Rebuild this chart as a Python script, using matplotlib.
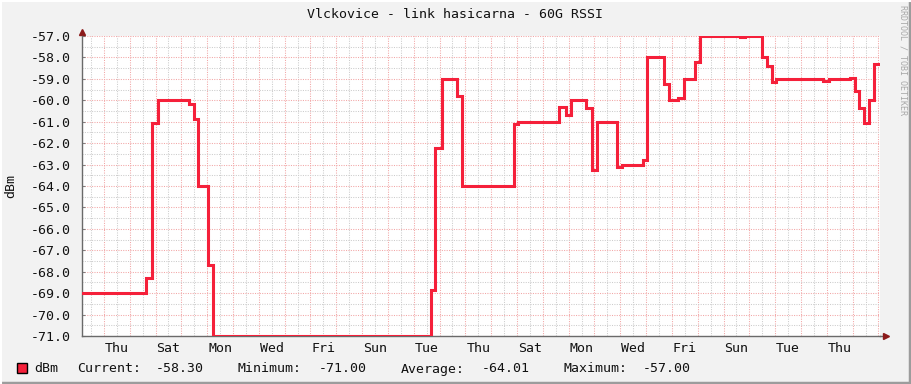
import matplotlib
matplotlib.use("Agg")
import matplotlib.pyplot as plt
from matplotlib.ticker import MultipleLocator, FixedLocator, FixedFormatter, FormatStrFormatter
from matplotlib.patches import Rectangle

# ---- data (time in days since the first Thursday midnight, value in dBm) ----
times = [-0.85, 1.63, 1.85, 2.08, 3.28, 3.49, 3.65, 4.04, 4.24,
         12.65, 12.83, 13.08, 13.66, 13.88, 15.87, 16.05,
         17.64, 17.89, 18.08, 18.67, 18.89, 19.08, 19.88, 20.05, 20.87,
         21.04, 21.69, 21.90, 22.24, 22.47, 22.89, 23.08, 24.63, 24.85,
         25.50, 25.67, 25.86, 26.03, 27.86, 28.09, 28.89, 29.09, 29.25,
         29.45, 29.64, 29.84, 30.06]
values = [-69.0, -68.3, -61.05, -60.0, -60.15, -60.85, -64.0, -67.7, -71.0,
          -68.85, -62.24, -59.0, -59.78, -64.0, -61.1, -61.0,
          -60.3, -60.7, -60.0, -60.35, -63.25, -61.0, -63.13, -63.0, -62.8,
          -58.0, -59.25, -60.0, -59.9, -59.0, -58.23, -57.0, -57.06, -57.0,
          -58.0, -58.4, -59.15, -59.0, -59.08, -59.0, -58.95, -59.55, -60.36,
          -61.05, -60.0, -58.3, -58.3]
day_labels = ["Thu", "Sat", "Mon", "Wed", "Fri", "Sun", "Tue", "Thu",
              "Sat", "Mon", "Wed", "Fri", "Sun", "Tue", "Thu"]
label_pos = [0.5 + 2 * i for i in range(len(day_labels))]

title = "Vlckovice - link hasicarna - 60G RSSI"
series_name = "dBm"
stats = [("Current:", "-58.30"), ("Minimum:", "-71.00"),
         ("Average:", "-64.01"), ("Maximum:", "-57.00")]

W, H = 911, 384
MONO = "DejaVu Sans Mono"
FS = 9.5
line_color = "#F5203A"
txt_color = "#111111"

fig = plt.figure(figsize=(W / 100, H / 100), dpi=100)
fig.patch.set_facecolor("#F2F2F2")

# frame shading like rrdtool
fig.add_artist(plt.Line2D([0, 1], [1 / H * 1.5, 1 / H * 1.5], transform=fig.transFigure, color="#9C9C9C", lw=2.5))
fig.add_artist(plt.Line2D([1 - 1.5 / W, 1 - 1.5 / W], [0, 1], transform=fig.transFigure, color="#9C9C9C", lw=2.5))
fig.add_artist(plt.Line2D([0, 1], [1 - 1 / H, 1 - 1 / H], transform=fig.transFigure, color="#FFFFFF", lw=1.5))
fig.add_artist(plt.Line2D([1 / W, 1 / W], [0, 1], transform=fig.transFigure, color="#FFFFFF", lw=1.5))

left, right, top, bottom = 82, 880, 36, 336
ax = fig.add_axes([left / W, (H - bottom) / H, (right - left) / W, (bottom - top) / H])
ax.set_facecolor("white")

ax.set_xlim(-0.85, 30.06)
ax.set_ylim(-71, -57)

# grid
ax.xaxis.set_major_locator(MultipleLocator(1))
ax.xaxis.set_minor_locator(MultipleLocator(0.5))
ax.yaxis.set_major_locator(MultipleLocator(1))
ax.yaxis.set_minor_locator(MultipleLocator(0.5))
ax.grid(which="minor", color="#CCCCCC", linestyle=(0, (1, 1.3)), linewidth=0.75)
ax.grid(which="major", color="#F2A6A6", linestyle=(0, (1, 1.3)), linewidth=0.75)
ax.set_axisbelow(True)

ax.yaxis.set_major_formatter(FormatStrFormatter("%.1f"))
ax.tick_params(axis="y", which="major", length=2, direction="in", color="#808080",
               labelsize=FS, pad=8, labelfontfamily=MONO, labelcolor=txt_color)
ax.tick_params(axis="y", which="minor", length=0)
ax.tick_params(axis="x", which="both", length=0)
ax.set_xticklabels([])

# day labels as secondary x ticks
sec = ax.secondary_xaxis("bottom")
sec.xaxis.set_major_locator(FixedLocator(label_pos))
sec.xaxis.set_major_formatter(FixedFormatter(day_labels))
sec.tick_params(length=0, labelsize=FS, pad=4, labelfontfamily=MONO, labelcolor=txt_color)
sec.spines["bottom"].set_visible(False)

for s in ["top", "right"]:
    ax.spines[s].set_visible(False)
ax.spines["left"].set_color("#6A6A6A")
ax.spines["bottom"].set_color("#6A6A6A")
ax.spines["left"].set_linewidth(1)
ax.spines["bottom"].set_linewidth(1)

# axis arrows
ax.plot([0], [1.012], marker="^", color="#8B1A1A", markersize=4.5, transform=ax.transAxes, clip_on=False)
ax.plot([1.0, 1.006], [0, 0], color="#6A6A6A", lw=1, transform=ax.transAxes, clip_on=False)
ax.plot([1.008], [0], marker=">", color="#8B1A1A", markersize=4.5, transform=ax.transAxes, clip_on=False)

ax.step(times, values, where="post", color=line_color, linewidth=2.2, solid_joinstyle="miter", zorder=5)

# texts
fig.text(455 / W, 1 - 14 / H, title, ha="center", va="center", fontsize=FS, family=MONO, color=txt_color)
fig.text(11 / W, 1 - 186 / H, "dBm", ha="center", va="center", rotation=90, fontsize=FS, family=MONO, color=txt_color)
fig.text(903 / W, 1 - 5 / H, "RRDTOOL / TOBI OETIKER", ha="center", va="top", rotation=270,
         fontsize=6.0, family=MONO, color="#A8A8A8")

# legend
ly = 1 - 368 / H
lb = 1 - 372.5 / H
fig.add_artist(Rectangle((17 / W, ly - 5 / H), 10 / W, 10 / H, transform=fig.transFigure,
                         facecolor=line_color, edgecolor="black", linewidth=1))
fig.text(34 / W, lb, series_name, ha="left", va="baseline", fontsize=FS, family=MONO, color=txt_color)
label_x = [77, 238, 401, 563]
value_x = [156, 319, 482, 643]
for (lab, val), lx, vx in zip(stats, label_x, value_x):
    fig.text(lx / W, lb, lab, ha="left", va="baseline", fontsize=FS, family=MONO, color=txt_color)
    fig.text(vx / W, lb, val, ha="left", va="baseline", fontsize=FS, family=MONO, color=txt_color)

fig.savefig("out.png", dpi=100, facecolor=fig.get_facecolor())
